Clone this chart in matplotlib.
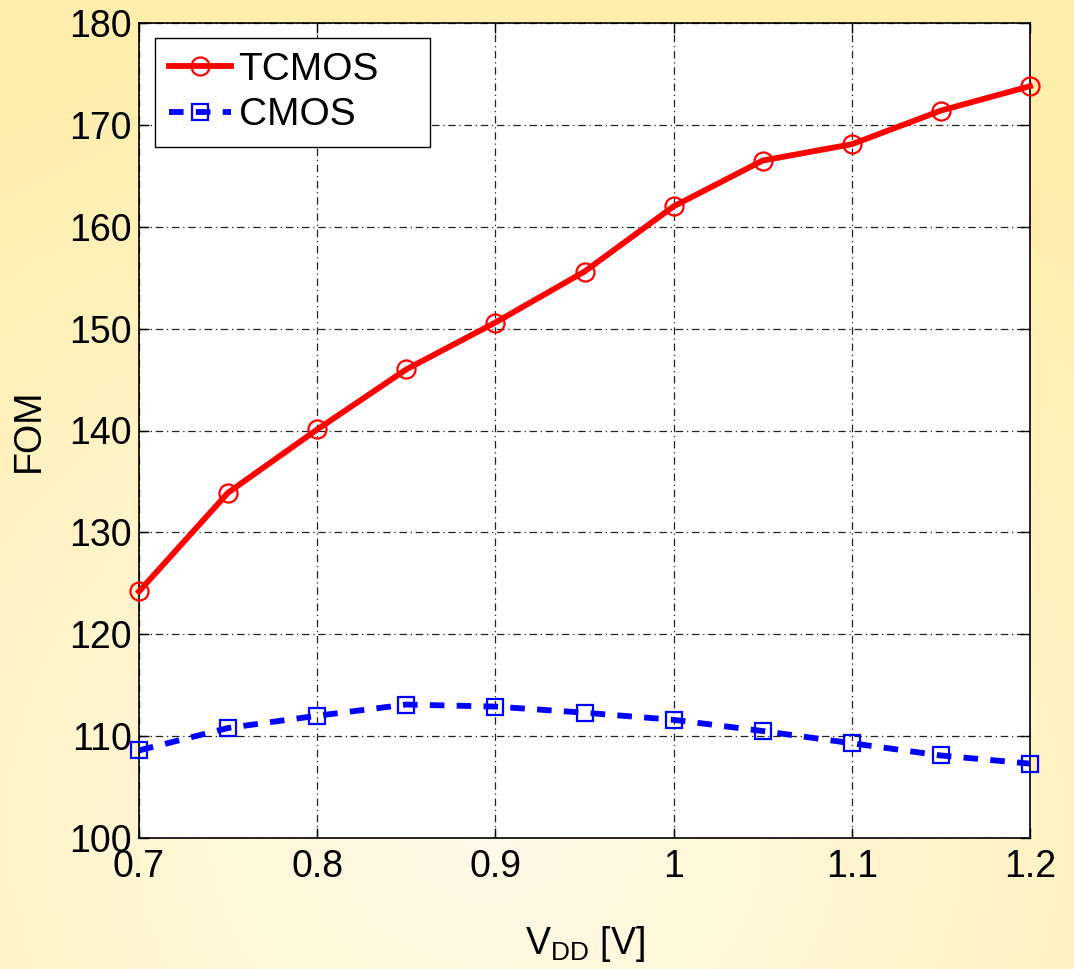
import numpy as np
import matplotlib
matplotlib.use("Agg")
import matplotlib.pyplot as plt

plt.rcParams['font.family'] = ['Liberation Sans', 'DejaVu Sans']
plt.rcParams['mathtext.fontset'] = 'custom'
plt.rcParams['mathtext.rm'] = 'Liberation Sans'

vdd = [0.7, 0.75, 0.8, 0.85, 0.9, 0.95, 1.0, 1.05, 1.1, 1.15, 1.2]
tcmos = [124.2, 133.9, 140.1, 146.0, 150.6, 155.6, 162.0, 166.5, 168.1, 171.4, 173.8]
cmos = [108.6, 110.8, 112.0, 113.1, 112.9, 112.3, 111.6, 110.5, 109.3, 108.1, 107.3]
xticks = [0.7, 0.8, 0.9, 1.0, 1.1, 1.2]
xticklabels = ['0.7', '0.8', '0.9', '1', '1.1', '1.2']
yticks = [100, 110, 120, 130, 140, 150, 160, 170, 180]

fig = plt.figure(figsize=(10.74, 9.69), dpi=100)

# background gradient
bg = fig.add_axes([0, 0, 1, 1], zorder=-10)
h, w = 200, 220
yy, xx = np.mgrid[0:h, 0:w]
cx, cy = w * 0.45, h * 0.85
r = np.sqrt(((xx - cx) / w) ** 2 + ((yy - cy) / h) ** 2)
t = np.clip(r / 0.85, 0, 1)
c0 = np.array([255, 251, 235]) / 255.0
c1 = np.array([255, 238, 172]) / 255.0
img = c0[None, None, :] * (1 - t[..., None]) + c1[None, None, :] * t[..., None]
bg.imshow(img, aspect='auto', extent=[0, 1, 0, 1], origin='upper')
bg.set_axis_off()

ax = fig.add_axes([139 / 1074, 1 - 838 / 969, (1030 - 139) / 1074, (838 - 23) / 969])
ax.set_facecolor('white')

ax.plot(vdd, tcmos, color='#ff0000', lw=4.2, marker='o', ms=13, mfc='none',
        mec='#ff0000', mew=1.6, label='TCMOS', zorder=3, clip_on=False)
ax.plot(vdd, cmos, color='#0000ff', lw=4.2, ls=(0, (2.5, 2.1)), marker='s', ms=11,
        mfc='none', mec='#0000ff', mew=1.6, label='CMOS', zorder=3, clip_on=False)

ax.set_xlim(0.7, 1.2)
ax.set_ylim(100, 180)
ax.set_xticks(xticks)
ax.set_xticklabels(xticklabels)
ax.set_yticks(yticks)
ax.tick_params(direction='in', length=7, width=1, labelsize=27, pad=5,
               top=True, right=True)
ax.tick_params(axis='x', pad=8)
ax.grid(True, color='#222222', ls=(0, (6, 3, 1, 3)), lw=0.9)
for s in ax.spines.values():
    s.set_linewidth(1.2)
    s.set_color('black')

ax.set_xlabel(r'V$_{\mathregular{DD}}$ [V]', fontsize=27, labelpad=28)
ax.set_ylabel('FOM', fontsize=27, labelpad=16)

lx0 = (155 - 139) / 891
lw_ = (430 - 155) / 891
ly1 = (838 - 38) / 815
lh = (140 - 38) / 815
leg = ax.legend(loc='upper left', bbox_to_anchor=(lx0, ly1 - lh, lw_, lh),
                mode='expand', fontsize=28, frameon=True, fancybox=False,
                edgecolor='black', borderpad=0.35, handlelength=1.6,
                handletextpad=0.2, labelspacing=0.25, borderaxespad=0.0)
leg.get_frame().set_linewidth(1.0)
leg.get_frame().set_alpha(1)

fig.savefig('out.png', dpi=100)
